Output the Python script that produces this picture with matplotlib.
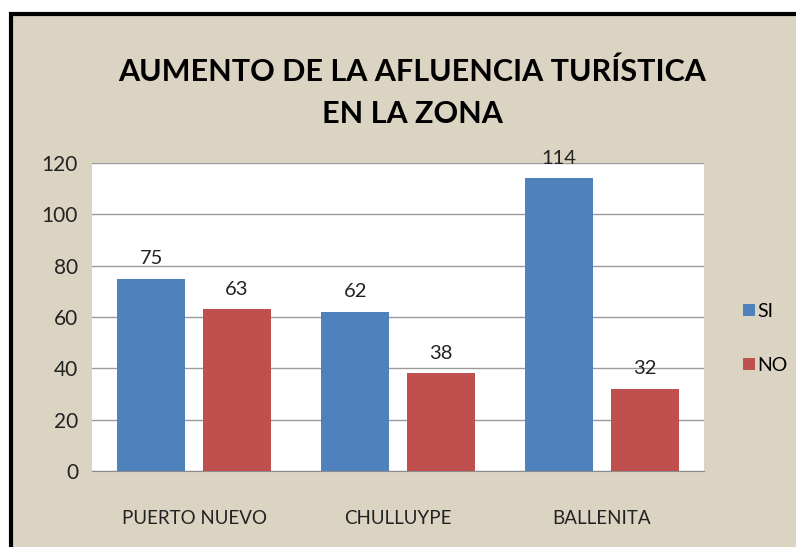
import numpy as np
import matplotlib.pyplot as plt
from matplotlib.patches import Rectangle

categories = ['PUERTO NUEVO', 'CHULLUYPE', 'BALLENITA']
si_values = [75, 62, 114]
no_values = [63, 38, 32]
series_names = ['SI', 'NO']
yticks = [0, 20, 40, 60, 80, 100, 120]

blue = '#4F81BD'
red = '#C0504D'
bg = '#DCD4C3'

plt.rcParams['font.family'] = ['Lato', 'DejaVu Sans']

fig = plt.figure(figsize=(7.96, 5.47), dpi=100)
fig.patch.set_facecolor('white')

# beige chart area with black frame (top and left edges visible)
frame = Rectangle((11 / 796, -0.01), 1.0, (547 - 14) / 547 + 0.01,
                  transform=fig.transFigure, facecolor=bg,
                  edgecolor='black', linewidth=3, zorder=-5)
fig.patches.append(frame)

ax = fig.add_axes([92 / 796, 76 / 547, 612 / 796, 308 / 547])
ax.set_zorder(2)
ax.set_facecolor('white')

x = np.arange(len(categories))
w = 0.333
b1 = ax.bar(x - 0.21, si_values, w, color=blue, label=series_names[0], zorder=3)
b2 = ax.bar(x + 0.21, no_values, w, color=red, label=series_names[1], zorder=3)

for bars in (b1, b2):
    for r in bars:
        ax.text(r.get_x() + r.get_width() / 2, r.get_height() + 4.5,
                f'{int(r.get_height())}', ha='center', va='bottom',
                fontsize=14.5, color='#222222')

ax.set_xlim(-0.5, 2.5)
ax.set_ylim(0, 120)
ax.set_yticks(yticks)
ax.set_xticks(x)
ax.set_xticklabels(categories, fontsize=13.5)
ax.tick_params(axis='y', labelsize=15)
ax.tick_params(axis='both', length=0, colors='#222222')
ax.tick_params(axis='x', pad=28)
ax.tick_params(axis='y', pad=10)
ax.yaxis.grid(True, color='#9A9A9A', linewidth=1, zorder=0)
ax.set_axisbelow(True)
for s in ['top', 'right', 'left']:
    ax.spines[s].set_visible(False)
ax.spines['bottom'].set_color('#8C8C8C')

leg = ax.legend(loc='center left', bbox_to_anchor=(1.035, 0.43), frameon=False,
                fontsize=14, handlelength=0.6, handleheight=0.6,
                handletextpad=0.15, labelspacing=1.9)

fig.text(0.518, 0.831, 'AUMENTO DE LA AFLUENCIA TURÍSTICA\nEN LA ZONA',
         ha='center', va='center', fontsize=22, fontweight='bold',
         linespacing=1.62, color='black')

fig.savefig('out.png', dpi=100, facecolor=fig.get_facecolor())
